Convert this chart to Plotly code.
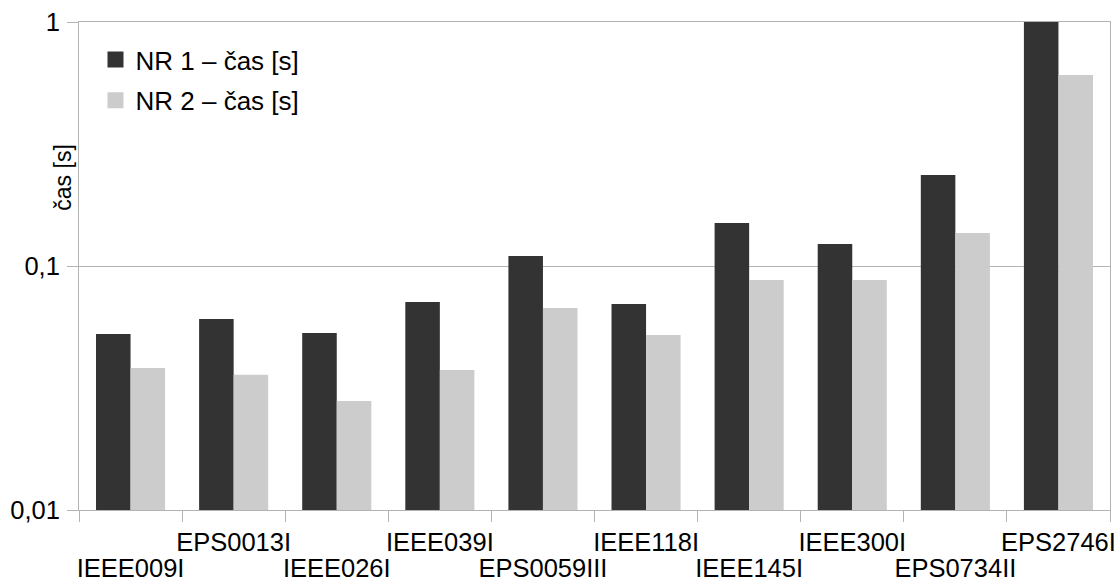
import plotly.graph_objects as go

# Test cases and solve times (seconds) for the two Newton-Raphson variants
cases = ["IEEE009I", "EPS0013I", "IEEE026I", "IEEE039I", "EPS0059III",
         "IEEE118I", "IEEE145I", "IEEE300I", "EPS0734II", "EPS2746I"]
nr1_time = [0.0526, 0.0607, 0.0531, 0.0712, 0.110,
            0.0699, 0.150, 0.123, 0.236, 1.0]
nr2_time = [0.0382, 0.0358, 0.0280, 0.0375, 0.0673,
            0.0522, 0.0876, 0.0876, 0.1365, 0.607]

series_names = ["NR 1 – čas [s]", "NR 2 – čas [s]"]
y_tick_vals = [0.01, 0.1, 1]
y_tick_text = ["0,01", "0,1", "1"]
y_title = "čas [s]"

DARK = "#333333"
LIGHT = "#cccccc"
GRID = "#b3b3b3"
FONT = "Liberation Sans, Arial, sans-serif"
FS = 25.5

# Category labels alternate between an upper row (x) and a lower row (x2)
upper_text = [c if i % 2 else "" for i, c in enumerate(cases)]
lower_text = ["" if i % 2 else c for i, c in enumerate(cases)]

fig = go.Figure()
for name, vals, col in [(series_names[0], nr1_time, DARK),
                        (series_names[1], nr2_time, LIGHT)]:
    fig.add_trace(go.Bar(x=cases, y=vals, name=name, marker_color=col,
                         marker_line_width=0, showlegend=False))

# Carrier for the second label row
fig.add_trace(go.Scatter(x=cases, y=[None] * len(cases), xaxis="x2",
                         mode="markers", showlegend=False, hoverinfo="skip"))

# Legend entries with larger square swatches
for i, (name, col) in enumerate([(series_names[0], DARK), (series_names[1], LIGHT)]):
    fig.add_trace(go.Scatter(x=[None], y=[None], mode="markers", name=name,
                             legendgroup=f"g{i}",
                             marker=dict(symbol="square", size=16, color=col)))

fig.update_layout(
    width=1118, height=586,
    margin=dict(l=79, r=8, t=22, b=76, autoexpand=False),
    paper_bgcolor="white", plot_bgcolor="white",
    font=dict(family=FONT, size=FS, color="black"),
    barmode="group", bargap=0.33, bargroupgap=0,
    legend=dict(x=0.016, y=0.971, xanchor="left", yanchor="top",
                bgcolor="rgba(0,0,0,0)", tracegroupgap=4,
                font=dict(size=26), traceorder="grouped"),
    annotations=[dict(text=y_title, textangle=-90, xref="paper", yref="paper",
                      x=-0.015, y=0.68, xanchor="center", yanchor="middle",
                      showarrow=False, font=dict(size=23))],
    xaxis=dict(
        type="category", categoryorder="array", categoryarray=cases,
        range=[-0.5, len(cases) - 0.5],
        tickmode="array", tickvals=cases, ticktext=upper_text,
        tickson="boundaries", ticks="outside", ticklen=11, tickcolor=GRID,
        ticklabelstandoff=9, automargin=False,
        showline=True, linecolor=GRID, linewidth=1, mirror=True,
        showgrid=False, zeroline=False, tickangle=0,
    ),
    xaxis2=dict(
        type="category", categoryorder="array", categoryarray=cases,
        overlaying="x", matches="x", anchor="y", side="bottom",
        tickmode="array", tickvals=cases, ticktext=lower_text,
        ticks="", ticklabelstandoff=40, automargin=False,
        showline=False, showgrid=False, zeroline=False, tickangle=0,
    ),
    yaxis=dict(
        type="log", range=[-2, 0],
        tickmode="array", tickvals=y_tick_vals, ticktext=y_tick_text,
        ticks="outside", ticklen=11, tickcolor=GRID, ticklabelstandoff=2,
        automargin=False,
        showline=True, linecolor=GRID, linewidth=1, mirror=True,
        showgrid=True, gridcolor=GRID, gridwidth=1, zeroline=False,
    ),
)

fig.write_html("out.html")
